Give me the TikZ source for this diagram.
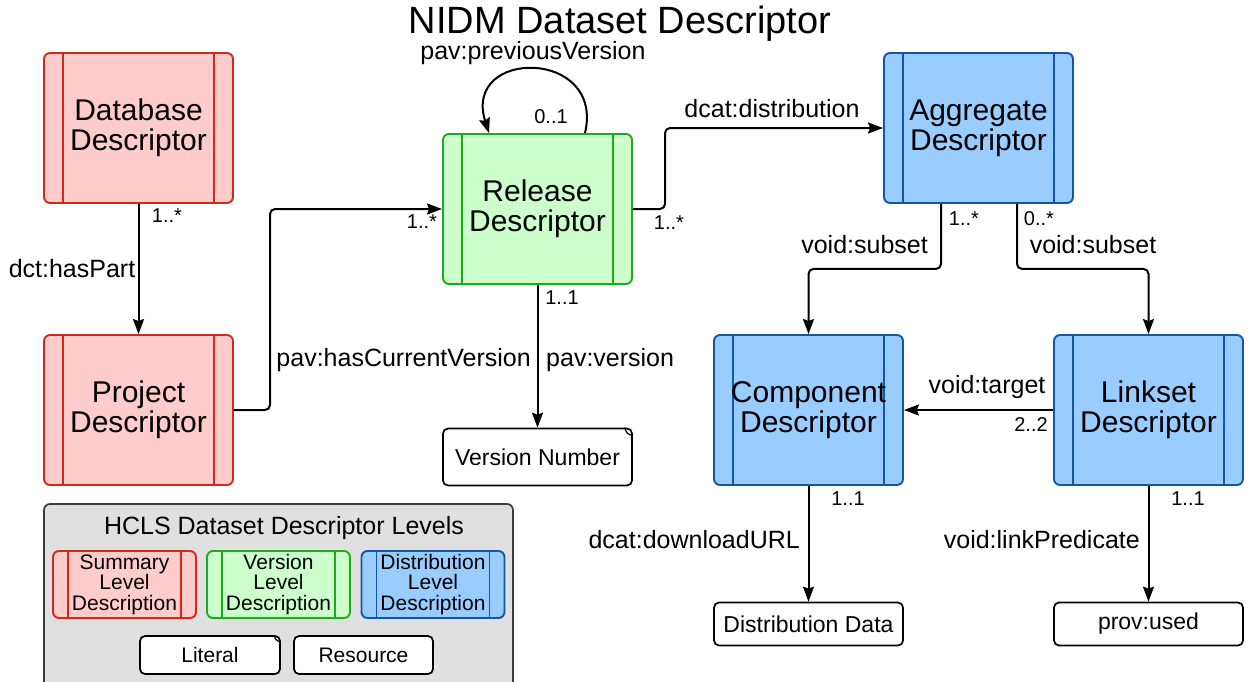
\documentclass[tikz,border=0pt]{standalone}
\usepackage{fontspec}
\setmainfont{Liberation Sans}
\usetikzlibrary{arrows.meta}
\definecolor{redS}{RGB}{210,40,30}
\definecolor{redF}{RGB}{255,204,204}
\definecolor{greenS}{RGB}{30,170,30}
\definecolor{greenF}{RGB}{204,255,204}
\definecolor{blueS}{RGB}{20,85,165}
\definecolor{blueF}{RGB}{153,204,255}
\definecolor{legF}{RGB}{224,224,224}
\definecolor{legS}{RGB}{60,60,60}
\tikzset{
  desc/.style n args={3}{draw=#1, fill=#2, line width=1.9pt, rounded corners=6pt,
    align=center, inner sep=0pt,
    path picture={\draw[#1, line width=1.9pt, sharp corners]
      ([xshift=#3]path picture bounding box.north west) -- ([xshift=#3]path picture bounding box.south west)
      ([xshift=-#3]path picture bounding box.north east) -- ([xshift=-#3]path picture bounding box.south east);}},
  bigbox/.style={minimum width=189pt, minimum height=150pt, font=\fontsize{30}{30}\selectfont},
  legbox/.style={minimum width=143pt, minimum height=67pt, font=\fontsize{21}{20.5}\selectfont},
  litbox/.style={draw=black, fill=white, line width=1.7pt, rounded corners=5pt, inner sep=0pt,
    font=\fontsize{23}{23}\selectfont},
  conn/.style={line width=2pt, rounded corners=5pt},
  arr/.style={conn, -{Stealth[length=15pt,width=11pt,inset=2pt]}},
  lab/.style={font=\fontsize{25}{25}\selectfont, inner sep=0pt},
  mult/.style={font=\fontsize{20}{20}\selectfont, inner sep=0pt},
}
\begin{document}
\begin{tikzpicture}[x=1pt,y=-1pt]
\useasboundingbox (0,0) rectangle (1254,681);

% title
\node[anchor=base, inner sep=0pt, font=\fontsize{38}{38}\selectfont] (title) at (620,33) {NIDM Dataset Descriptor};

% main descriptor boxes
\node[desc={redS}{redF}{19pt}, bigbox] (db) at (138.5,128) {Database\\Descriptor};
\node[desc={redS}{redF}{19pt}, bigbox] (pj) at (138.5,410) {Project\\Descriptor};
\node[desc={greenS}{greenF}{19pt}, bigbox] (rel) at (537.5,209) {Release\\Descriptor};
\node[desc={blueS}{blueF}{19pt}, bigbox] (agg) at (978.5,128) {Aggregate\\Descriptor};
\node[desc={blueS}{blueF}{19pt}, bigbox] (comp) at (808.5,410) {Component\\Descriptor};
\node[desc={blueS}{blueF}{19pt}, bigbox] (lk) at (1148.5,410) {Linkset\\Descriptor};

% literal / resource boxes
\node[litbox, minimum width=189pt, minimum height=57pt] (vn) at (537.5,457) {Version Number};
\draw[line width=1.2pt] ([xshift=-8pt]vn.north east) .. controls ([xshift=-6pt,yshift=-6pt]vn.north east) .. ([yshift=-8pt]vn.north east);
\node[litbox, minimum width=189pt, minimum height=43pt] (dd) at (808.5,624) {Distribution Data};
\node[litbox, minimum width=189pt, minimum height=43pt] (pu) at (1148.5,624) {prov:used};

% connectors
\draw[arr] (db) -- (pj);
\coordinate (k1) at (270,300);
\draw[arr] (pj.east) -| (k1) |- (rel.west);
\draw[arr] ([xshift=47.5pt]rel.north) .. controls +(20,-85) and +(-27,-85) .. ([xshift=-48.5pt]rel.north);
\coordinate (k2) at (665,170);
\draw[arr] (rel.east) -| (k2) |- (agg.west);
\draw[arr] (rel) -- (vn);
\draw[arr] ([xshift=-37.5pt]agg.south) -- ++(0,65) -| (comp.north);
\draw[arr] ([xshift=38.5pt]agg.south) -- ++(0,65) -| (lk.north);
\draw[arr] (lk.west) -- (comp.east);
\draw[arr] (comp) -- (dd);
\draw[arr] (lk) -- (pu);

% labels
\node[mult, anchor=base] (m1) at (167,222) {1..*};
\node[lab, anchor=base] (l1) at (72,277) {dct:hasPart};
\node[lab, anchor=base east] (l2) at (531,366) {pav:hasCurrentVersion};
\node[mult, anchor=base] (m2) at (422,228) {1..*};
\node[lab, anchor=base west] (l3) at (546,366) {pav:version};
\node[mult, anchor=base] (m3) at (562,304) {1..1};
\node[lab, anchor=base] (l4) at (533,59) {pav:previousVersion};
\node[mult, anchor=base] (m4) at (551,123) {0..1};
\node[lab, anchor=base] (l5) at (772,117) {dcat:distribution};
\node[mult, anchor=base] (m5) at (669,229) {1..*};
\node[mult, anchor=base] (m6) at (964,225) {1..*};
\node[mult, anchor=base] (m7) at (1039,225) {0..*};
\node[lab, anchor=base east] (l6) at (928,253) {void:subset};
\node[lab, anchor=base] (l7) at (1093,253) {void:subset};
\node[lab, anchor=base] (l8) at (987,393) {void:target};
\node[mult, anchor=base] (m8) at (1031,431) {2..2};
\node[mult, anchor=base] (m9) at (848,505) {1..1};
\node[lab, anchor=base east] (l9) at (800,548) {dcat:downloadURL};
\node[mult, anchor=base] (m10) at (1188,505) {1..1};
\node[lab, anchor=base east] (l10) at (1140,548) {void:linkPredicate};

% legend
\draw[draw=legS, fill=legF, line width=1.7pt, rounded corners=6pt] (44,504) rectangle (513,695);
\node[anchor=base, inner sep=0pt, font=\fontsize{25}{25}\selectfont] (legt) at (284,534) {HCLS Dataset Descriptor Levels};
\node[desc={redS}{redF}{15pt}, legbox] (ls) at (124.5,584.5) {Summary\\Level\\Description};
\node[desc={greenS}{greenF}{15pt}, legbox] (lv) at (278.5,584.5) {Version\\Level\\Description};
\node[desc={blueS}{blueF}{15pt}, legbox] (ld) at (433,584.5) {Distribution\\Level\\Description};
\node[litbox, minimum width=140pt, minimum height=38pt, font=\fontsize{21}{21}\selectfont] (lit) at (210,655) {Literal};
\draw[line width=1.2pt] ([xshift=-7pt]lit.north east) .. controls ([xshift=-5pt,yshift=-5pt]lit.north east) .. ([yshift=-7pt]lit.north east);
\node[litbox, minimum width=139pt, minimum height=38pt, font=\fontsize{21}{21}\selectfont] (res) at (363.5,655) {Resource};
\end{tikzpicture}
\end{document}
